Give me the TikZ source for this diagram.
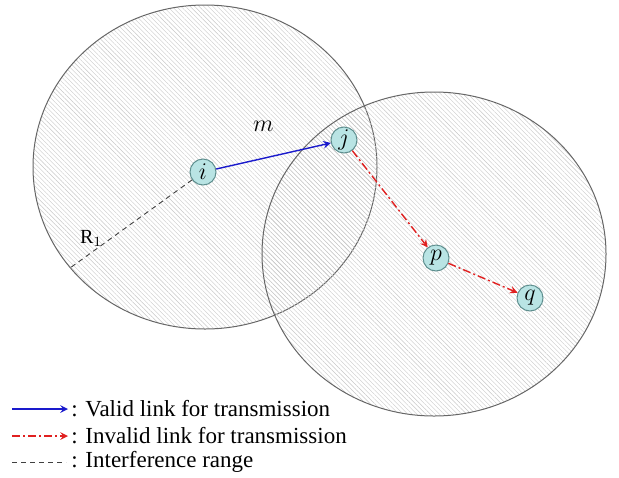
\documentclass[tikz,border=0pt]{standalone}
\usepackage{fontspec}
\setmainfont{Liberation Serif}
\usetikzlibrary{patterns.meta}
\definecolor{nodefill}{HTML}{B9E4E4}
\definecolor{nodeline}{HTML}{5F8F8F}
\definecolor{linkblue}{HTML}{1A1ACC}
\definecolor{linkred}{HTML}{E02020}
\begin{document}
\begin{tikzpicture}[x=0.5pt,y=-0.5pt]
        % Define styles
        \tikzset{
            station/.style={circle, draw=nodeline, fill=nodefill, line width=0.5pt, minimum size=13pt, inner sep=0pt, font=\large},
            irange/.style={draw=black!60, line width=0.5pt, pattern={Lines[angle=-45, distance=1.6pt, line width=0.2pt]}, pattern color=black!22},
            valid/.style={->,>=stealth, draw=linkblue, line width=0.7pt},
            invalid/.style={->,>=stealth, draw=linkred, line width=0.7pt, dash pattern=on 4pt off 1.5pt on 1pt off 1.5pt},
            radius line/.style={draw=black!75, line width=0.45pt, dash pattern=on 2.5pt off 2pt},
            legend/.style={anchor=west, font=\fontsize{11.5}{13}\selectfont, inner sep=0pt}
        }
        \useasboundingbox (0,0) rectangle (619,477);

        % Interference ranges
        \path[irange] (205,167) ellipse [x radius=172, y radius=162];
        \path[irange] (434,254) ellipse [x radius=172, y radius=162];

        % Nodes
        \node[station] (node_i) at (203,172) {$i$};
        \node[station] (node_j) at (344,140) {$j$};
        \node[station] (node_p) at (436,258) {$p$};
        \node[station] (node_q) at (530,298) {$q$};
        \coordinate (range_end) at (70,268);

        % Arrows
        \draw[radius line] (node_i) -- (range_end) node[pos=0.66, left=1pt, font=\normalsize] {R$_1$};
        \draw[valid] (node_i) -- (node_j) node[midway, above=8.5pt, xshift=-5pt, font=\large] {$m$};
        \draw[invalid] (node_j) -- (node_p);
        \draw[invalid] (node_p) -- (node_q);

        % Legend
        \coordinate (valid_a) at (12,409);
        \coordinate (valid_b) at (68,409);
        \coordinate (invalid_a) at (12,436);
        \coordinate (invalid_b) at (68,436);
        \coordinate (range_a) at (12,462);
        \coordinate (range_b) at (66,462);
        \draw[valid] (valid_a) -- (valid_b);
        \draw[invalid] (invalid_a) -- (invalid_b);
        \draw[radius line] (range_a) -- (range_b);
        \node[legend] (valid_text) at (71,409) {: Valid link for transmission};
        \node[legend] (invalid_text) at (71,436) {: Invalid link for transmission};
        \node[legend] (range_text) at (71,462) {: Interference range};
    \end{tikzpicture}
\end{document}
